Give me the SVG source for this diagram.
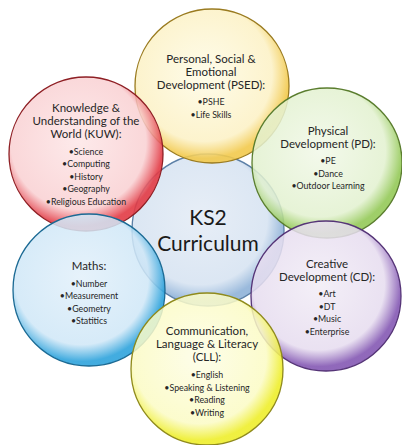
<svg xmlns="http://www.w3.org/2000/svg" width="402" height="445" viewBox="0 0 402 445">
<style>
.h{font-family:Lato,"Liberation Sans",sans-serif;font-size:11.5px;fill:#262626;text-anchor:middle}
.b{font-family:Lato,"Liberation Sans",sans-serif;font-size:8.8px;fill:#262626;text-anchor:middle}
.t{font-family:Lato,"Liberation Sans",sans-serif;font-size:21px;fill:#1a1a1a;text-anchor:middle}
circle{stroke-width:1.3}
</style>
<defs>
<radialGradient id="gY" cx="0.45" cy="0.42" r="0.55"><stop offset="0" stop-color="#fefbe6" stop-opacity="0.85"/><stop offset="0.8" stop-color="#fcf1c4" stop-opacity="0.85"/><stop offset="1" stop-color="#f2c94c" stop-opacity="0.9"/></radialGradient>
<radialGradient id="gR" cx="0.45" cy="0.42" r="0.55"><stop offset="0" stop-color="#fde6e7" stop-opacity="0.85"/><stop offset="0.8" stop-color="#f9d0d2" stop-opacity="0.85"/><stop offset="1" stop-color="#e23a44" stop-opacity="0.9"/></radialGradient>
<radialGradient id="gB" cx="0.45" cy="0.42" r="0.55"><stop offset="0" stop-color="#e2f0fa" stop-opacity="0.85"/><stop offset="0.8" stop-color="#cfe7f7" stop-opacity="0.85"/><stop offset="1" stop-color="#2ea3dc" stop-opacity="0.9"/></radialGradient>
<radialGradient id="gC" cx="0.45" cy="0.42" r="0.55"><stop offset="0" stop-color="#e3ebf5" stop-opacity="0.85"/><stop offset="0.8" stop-color="#d5e2f1" stop-opacity="0.85"/><stop offset="1" stop-color="#8fb2d8" stop-opacity="0.9"/></radialGradient>
<radialGradient id="gG" cx="0.45" cy="0.42" r="0.55"><stop offset="0" stop-color="#f1f8e8" stop-opacity="0.85"/><stop offset="0.8" stop-color="#e2f1cf" stop-opacity="0.85"/><stop offset="1" stop-color="#94c958" stop-opacity="0.9"/></radialGradient>
<radialGradient id="gP" cx="0.45" cy="0.42" r="0.55"><stop offset="0" stop-color="#f2edf6" stop-opacity="0.85"/><stop offset="0.8" stop-color="#e6dcef" stop-opacity="0.85"/><stop offset="1" stop-color="#8458b3" stop-opacity="0.9"/></radialGradient>
<radialGradient id="gL" cx="0.45" cy="0.42" r="0.55"><stop offset="0" stop-color="#fdfde6" stop-opacity="0.85"/><stop offset="0.8" stop-color="#fbfbc4" stop-opacity="0.85"/><stop offset="1" stop-color="#eeee2c" stop-opacity="0.9"/></radialGradient>
</defs>
<rect width="402" height="445" fill="#ffffff"/>
<g id="ks2">
<circle cx="208" cy="230" r="76" fill="url(#gC)" stroke="#5b7fa6"/>
<text class="t" x="208" y="225">KS2</text>
<text class="t" x="208" y="251">Curriculum</text>
</g>
<g id="psed">
<circle cx="212" cy="86" r="77" fill="url(#gY)" stroke="#9a7b20"/>
<text class="h" x="211" y="63">Personal, Social &amp;</text>
<text class="h" x="211" y="76">Emotional</text>
<text class="h" x="211" y="89">Development (PSED):</text>
<text class="b" x="211" y="105">•PSHE</text>
<text class="b" x="211" y="118">•Life Skills</text>
</g>
<g id="kuw">
<circle cx="86" cy="154" r="77" fill="url(#gR)" stroke="#8e1f24"/>
<text class="h" x="86" y="112">Knowledge &amp;</text>
<text class="h" x="86" y="125">Understanding of the</text>
<text class="h" x="86" y="138">World (KUW):</text>
<text class="b" x="86" y="155">•Science</text>
<text class="b" x="86" y="167">•Computing</text>
<text class="b" x="86" y="180">•History</text>
<text class="b" x="86" y="192">•Geography</text>
<text class="b" x="86" y="205">•Religious Education</text>
</g>
<g id="pd">
<circle cx="327" cy="163" r="75" fill="url(#gG)" stroke="#5a7d2e"/>
<text class="h" x="328" y="135">Physical</text>
<text class="h" x="328" y="148">Development (PD):</text>
<text class="b" x="328" y="164">•PE</text>
<text class="b" x="328" y="177">•Dance</text>
<text class="b" x="328" y="189">•Outdoor Learning</text>
</g>
<g id="maths">
<circle cx="89" cy="290" r="76" fill="url(#gB)" stroke="#1b6a94"/>
<text class="h" x="89" y="270">Maths:</text>
<text class="b" x="89" y="287">•Number</text>
<text class="b" x="89" y="299">•Measurement</text>
<text class="b" x="89" y="312">•Geometry</text>
<text class="b" x="89" y="324">•Statitics</text>
</g>
<g id="cd">
<circle cx="326" cy="296" r="75" fill="url(#gP)" stroke="#553477"/>
<text class="h" x="327" y="268">Creative</text>
<text class="h" x="327" y="281">Development (CD):</text>
<text class="b" x="327" y="297">•Art</text>
<text class="b" x="327" y="310">•DT</text>
<text class="b" x="327" y="322">•Music</text>
<text class="b" x="327" y="335">•Enterprise</text>
</g>
<g id="cll">
<circle cx="207" cy="369" r="76" fill="url(#gL)" stroke="#8f8a1c"/>
<text class="h" x="207" y="335">Communication,</text>
<text class="h" x="207" y="348">Language &amp; Literacy</text>
<text class="h" x="207" y="361">(CLL):</text>
<text class="b" x="207" y="378">•English</text>
<text class="b" x="207" y="391">•Speaking &amp; Listening</text>
<text class="b" x="207" y="403">•Reading</text>
<text class="b" x="207" y="416">•Writing</text>
</g>
<g id="connectors"></g>
</svg>
